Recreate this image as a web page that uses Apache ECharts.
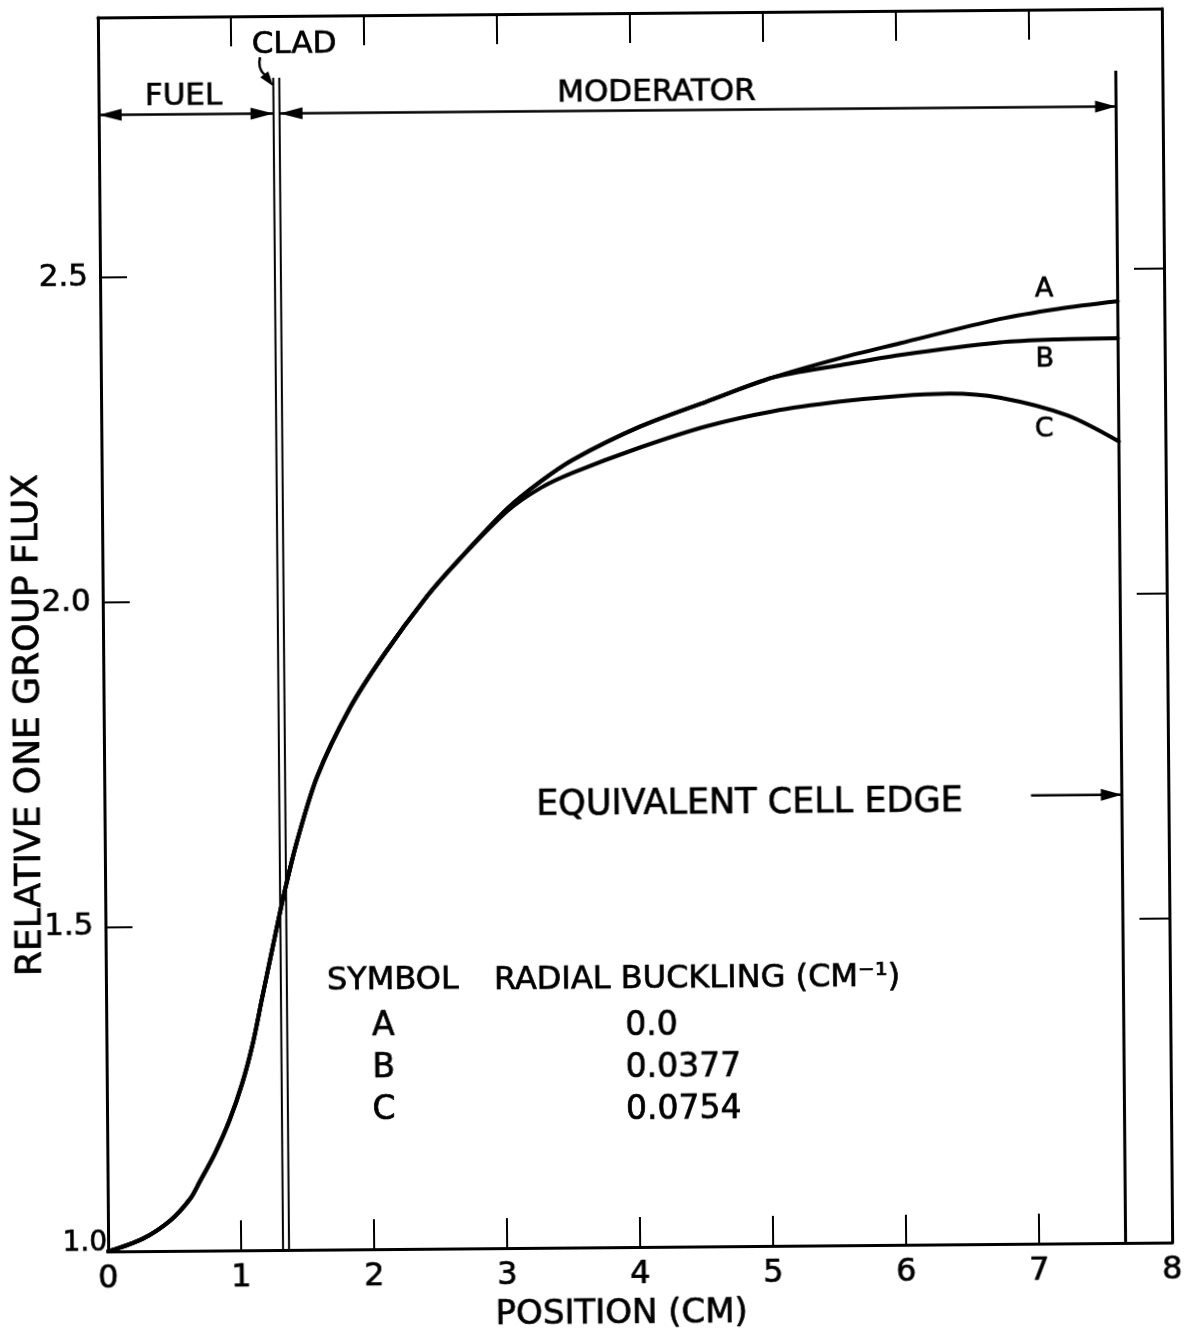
<!DOCTYPE html>
<html>
<head>
<meta charset="utf-8">
<title>Relative one group flux across the equivalent cell</title>
<script src="https://cdn.jsdelivr.net/npm/echarts@6/dist/echarts.min.js"></script>
<style>
  html, body { margin: 0; padding: 0; background: #ffffff; }
  /* the drawing sits a little off square on the sheet */
  #chart { width: 1189px; height: 1334px; background: #ffffff;
           transform: rotate(-0.48deg); transform-origin: 635px 630px; }
</style>
</head>
<body>
<div id="chart"></div>
<script>
// ---- data -------------------------------------------------------------
// Radial position (cm) and relative one group flux. All three cases follow
// one curve through fuel, clad and the inner moderator, then fan out.
const sharedPosition = [0, 0.26, 0.47, 0.62, 0.69, 0.81, 0.92, 1.02, 1.10, 1.17,
                        1.26, 1.34, 1.44, 1.60, 1.85, 2.11, 2.44, 2.67];
const sharedFlux     = [1.000, 1.019, 1.047, 1.080, 1.105, 1.150, 1.200, 1.258, 1.318, 1.385,
                        1.470, 1.544, 1.625, 1.728, 1.833, 1.915, 2.005, 2.058];

// A and B stay together until about 5 cm
const midPositionAB = [3.05, 3.30, 3.544, 4.05, 4.556, 5.053];
const midFluxAB     = [2.139, 2.180, 2.213, 2.263, 2.301, 2.337];

const tailPositionAB = [5.56, 6.01, 6.76, 7.20, 7.65];
const tailFluxA      = [2.366, 2.388, 2.424, 2.439, 2.450];
const tailFluxB      = [2.355, 2.370, 2.388, 2.392, 2.393];

const tailPositionC = [3.05, 3.30, 3.544, 4.05, 4.554, 5.051, 5.556, 6.00, 6.38, 6.758, 7.262, 7.65];
const tailFluxC     = [2.135, 2.170, 2.193, 2.231, 2.263, 2.285, 2.299, 2.307, 2.310, 2.303, 2.275, 2.234];

// region boundaries (cm)
const fuelRadius = 1.315;
const cladRadius = 1.36;
const cellEdge = 7.65;
const boundaryTop = 2.805;

// buckling table
const symbols = ['A', 'B', 'C'];
const radialBuckling = ['0.0', '0.0377', '0.0754'];

// tick labels
const xTickValues = [0, 1, 2, 3, 4, 5, 6, 7, 8];
const xTickLabels = ['0', '1', '2', '3', '4', '5', '6', '7', '8'];
const yTickValues = [1.0, 1.5, 2.0, 2.5];
const yTickLabels = ['1.0', '1.5', '2.0', '2.5'];

// ---- helpers ----------------------------------------------------------
const FONT = 'DejaVu Sans';
const INK = '#000000';
const WEIGHT = 0.7;   // extra stroke so the lettering reads a bit heavier
const pairs = (xs, ys) => xs.map((x, i) => [x, ys[i]]);

const curveA = pairs(sharedPosition.concat(midPositionAB, tailPositionAB),
                     sharedFlux.concat(midFluxAB, tailFluxA));
const curveB = pairs(sharedPosition.concat(midPositionAB, tailPositionAB),
                     sharedFlux.concat(midFluxAB, tailFluxB));
const curveC = pairs(sharedPosition.concat(tailPositionC),
                     sharedFlux.concat(tailFluxC));

function labelFor(values, labels, v) {
  const i = values.findIndex(t => Math.abs(t - v) < 1e-6);
  return i < 0 ? '' : labels[i];
}

function fluxSeries(name, data) {
  return {
    name, type: 'line', data, smooth: 0.3,
    symbol: 'none', silent: true, z: 5,
    lineStyle: { color: INK, width: 4, cap: 'round', join: 'round' }
  };
}

function boundarySeries(name, x, width) {
  return {
    name, type: 'line', data: [[x, 1.0], [x, boundaryTop]],
    symbol: 'none', silent: true, z: 4,
    lineStyle: { color: INK, width }
  };
}

const axisLine = { show: true, onZero: false, lineStyle: { color: INK, width: 3 } };
const heavy = { textBorderColor: INK, textBorderWidth: WEIGHT };

const option = {
  animation: false,
  backgroundColor: '#ffffff',
  grid: { left: 103, top: 13, width: 1064, height: 1234,
          containLabel: false, outerBoundsMode: 'none' },
  xAxis: [
    {
      type: 'value', position: 'bottom', min: 0, max: 8, interval: 1,
      axisLine,
      axisTick: { show: true, inside: true, length: 30, lineStyle: { color: INK, width: 2 } },
      splitLine: { show: false },
      axisLabel: Object.assign({
        show: true, margin: 12, color: INK, fontFamily: FONT, fontSize: 32,
        formatter: v => labelFor(xTickValues, xTickLabels, v)
      }, heavy),
      name: 'POSITION (CM)', nameLocation: 'middle', nameGap: 50,
      nameTextStyle: Object.assign({ color: INK, fontFamily: FONT, fontSize: 34, padding: [0, 38, 0, 0] }, heavy)
    },
    {
      type: 'value', position: 'top', min: 0, max: 8, interval: 1,
      axisLine,
      axisTick: { show: true, inside: true, length: 30, lineStyle: { color: INK, width: 2 } },
      splitLine: { show: false },
      axisLabel: { show: false }
    }
  ],
  yAxis: [
    {
      type: 'value', position: 'left', min: 1.0, max: 2.9, interval: 0.5,
      axisLine,
      axisTick: { show: true, inside: true, length: 27, lineStyle: { color: INK, width: 2 } },
      splitLine: { show: false },
      axisLabel: {
        show: true, margin: 1, color: INK, fontFamily: FONT,
        formatter: v => {
          const t = labelFor(yTickValues, yTickLabels, v);
          if (!t) return '';
          return (Math.abs(v - 1.0) < 1e-6 ? '{low|' : '{n|') + t + '}';
        },
        rich: {
          n: Object.assign({ fontFamily: FONT, fontSize: 31, color: INK, padding: [0, 11, 0, 0] }, heavy),
          low: Object.assign({ fontFamily: FONT, fontSize: 28, color: INK, padding: [0, 0, 17, 0] }, heavy)
        }
      },
      name: 'RELATIVE ONE GROUP FLUX', nameLocation: 'middle', nameRotate: 90,
      nameGap: 56, nameMoveOverlap: false,
      nameTextStyle: Object.assign({ color: INK, fontFamily: FONT, fontSize: 36, padding: [0, 180, 0, 0] }, heavy)
    },
    {
      type: 'value', position: 'right', min: 1.0, max: 2.9, interval: 0.5,
      axisLine,
      axisTick: { show: true, inside: true, length: 30, lineStyle: { color: INK, width: 2 } },
      splitLine: { show: false },
      axisLabel: { show: false }
    }
  ],
  series: [
    boundarySeries('fuel surface', fuelRadius, 2),
    boundarySeries('clad surface', cladRadius, 2),
    boundarySeries('equivalent cell edge', cellEdge, 3),
    fluxSeries('A', curveA),
    fluxSeries('B', curveB),
    fluxSeries('C', curveC)
  ]
};

const chart = echarts.init(document.getElementById('chart'));
chart.setOption(option);

// ---- annotations ------------------------------------------------------
const toPx = (x, y) => chart.convertToPixel({ gridIndex: 0 }, [x, y]);

function arrowHead(tip, dir, len, half) {
  const bx = tip[0] - dir[0] * len, by = tip[1] - dir[1] * len;
  return {
    type: 'polygon', silent: true, z: 20,
    shape: { points: [tip, [bx - dir[1] * half, by + dir[0] * half], [bx + dir[1] * half, by - dir[0] * half]] },
    style: { fill: INK }
  };
}
function shaft(a, b, w) {
  return {
    type: 'line', silent: true, z: 20,
    shape: { x1: a[0], y1: a[1], x2: b[0], y2: b[1] },
    style: { stroke: INK, lineWidth: w }
  };
}
function text(str, x, y, size, align) {
  return {
    type: 'text', x, y, silent: true, z: 30,
    style: { text: str, fill: INK, stroke: INK, lineWidth: WEIGHT,
             font: size + 'px "' + FONT + '"',
             align: align || 'center', verticalAlign: 'middle' }
  };
}

const dimLevel = 2.75;
const fuelL = toPx(0, dimLevel), fuelR = toPx(fuelRadius, dimLevel);
const modL = toPx(cladRadius, dimLevel), modR = toPx(cellEdge, dimLevel);
const edgeFrom = toPx(6.967, 1.69), edgeTo = toPx(cellEdge, 1.69);

// curved pointer from the CLAD caption to the clad
const cladTip = toPx(fuelRadius, 2.792);
const dir = [0.6, 0.8];
const cladBase = [cladTip[0] - dir[0] * 14, cladTip[1] - dir[1] * 14];

const graphics = [
  shaft(fuelL, fuelR, 2.5),
  arrowHead(fuelL, [-1, 0], 23, 6),
  arrowHead(fuelR, [1, 0], 23, 6),
  shaft(modL, modR, 2.5),
  arrowHead(modL, [-1, 0], 23, 6),
  arrowHead(modR, [1, 0], 21, 6),
  shaft(edgeFrom, edgeTo, 2.5),
  arrowHead(edgeTo, [1, 0], 21, 6),
  {
    type: 'bezierCurve', silent: true, z: 20,
    shape: { x1: cladTip[0] - 13, y1: cladTip[1] - 29,
             cpx1: cladTip[0] - 16, cpy1: cladTip[1] - 18,
             x2: cladBase[0], y2: cladBase[1] },
    style: { stroke: INK, lineWidth: 2.5, fill: null }
  },
  arrowHead(cladTip, dir, 15, 5),

  text('FUEL', 188, 93, 31),
  text('CLAD', 299, 42, 31),
  text('MODERATOR', 661, 93, 31),
  text('EQUIVALENT CELL EDGE', 748, 805, 35),

  text('A', 1047, 293, 27),
  text('B', 1047, 363, 27),
  text('C', 1046, 433, 27),

  text('SYMBOL', 324, 979, 32, 'left'),
  text('RADIAL BUCKLING (CM\u207B\u00B9)', 491, 980, 32, 'left')
];
symbols.forEach((s, i) => {
  graphics.push(text(s, 380, 1024 + i * 42, 33));
  graphics.push(text(radialBuckling[i], 622, 1026 + i * 42, 33, 'left'));
});

chart.setOption({ graphic: graphics });
</script>
</body>
</html>
